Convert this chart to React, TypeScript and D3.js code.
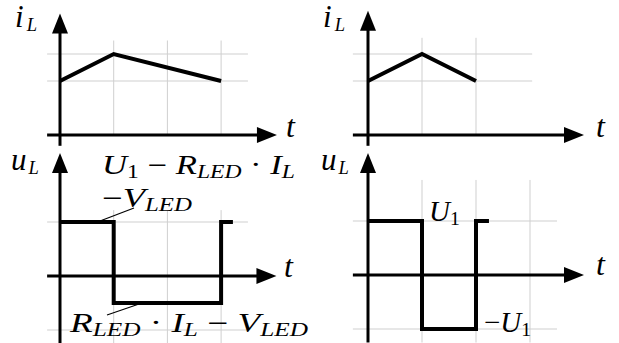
import React from "react";
import * as d3 from "d3";

// inductor current (top) and voltage (bottom), left: long off-time, right: short
const iLeftT = [0, 1, 3];
const iLeftV = [2, 3, 2];
const iRightT = [0, 1, 2];
const iRightV = [2, 3, 2];
const uLeftT = [0, 1, 3, 3.22];
const uLeftV = [1, -0.5, 1, 1];
const uRightT = [0, 1, 2, 2.24];
const uRightV = [1, -1, 1, 1];

const FONT = "Liberation Serif, DejaVu Serif, serif";

type Part = { s: string; sub?: boolean; up?: boolean; dx?: number };

const MathText = ({
  x, y, parts, size = 27, subRatio = 0.68, len,
}: { x: number; y: number; parts: Part[]; size?: number; subRatio?: number; len?: number }) => (
  <text
    x={x}
    y={y}
    style={{ fontFamily: FONT }}
    fontSize={size}
    fill="#000"
    textLength={len}
    lengthAdjust={len ? "spacingAndGlyphs" : undefined}
  >
    {parts.map((p, i) => {
      const prevSub = i > 0 && parts[i - 1].sub;
      let dy = 0;
      if (p.sub && !prevSub) dy = size * 0.13;
      if (!p.sub && prevSub) dy = -size * 0.13;
      return (
        <tspan
          key={i}
          dy={dy}
          dx={p.dx}
          fontSize={p.sub ? size * subRatio : size}
          fontStyle={p.up ? "normal" : "italic"}
        >
          {p.s}
        </tspan>
      );
    })}
  </text>
);

type PanelProps = {
  ox: number;
  oy: number;
  xUnit: number;
  yUnit: number;
  tRange: [number, number];
  vRange: [number, number];
  vTicks: number[];
  hTicks: number[];
  axisX: [number, number];
  axisY: [number, number];
  ts: number[];
  vs: number[];
  step?: boolean;
};

const Arrow = ({ x, y, dir }: { x: number; y: number; dir: "right" | "up" }) => {
  const L = 20;
  const W = 8;
  const d =
    dir === "right"
      ? `M${x},${y} L${x - L},${y - W} L${x - L},${y + W} Z`
      : `M${x},${y} L${x - W},${y + L} L${x + W},${y + L} Z`;
  return <path d={d} fill="#000" />;
};

const Panel = (p: PanelProps) => {
  const x = d3.scaleLinear().domain([0, 1]).range([p.ox, p.ox + p.xUnit]);
  const y = d3.scaleLinear().domain([0, 1]).range([p.oy, p.oy - p.yUnit]);
  const data = p.ts.map((t, i) => [t, p.vs[i]] as [number, number]);
  const line = d3
    .line<[number, number]>()
    .x((d) => x(d[0]))
    .y((d) => y(d[1]))
    .curve(p.step ? d3.curveStepAfter : d3.curveLinear);
  return (
    <g>
      {p.vTicks.map((t) => (
        <line key={"v" + t} x1={x(t)} x2={x(t)} y1={y(p.vRange[0])} y2={y(p.vRange[1])} stroke="#cfcfcf" strokeWidth={1} />
      ))}
      {p.hTicks.map((v) => (
        <line key={"h" + v} x1={x(p.tRange[0])} x2={x(p.tRange[1])} y1={y(v)} y2={y(v)} stroke="#cfcfcf" strokeWidth={1} />
      ))}
      <line x1={x(p.axisX[0])} x2={x(p.axisX[1]) - 10} y1={y(0)} y2={y(0)} stroke="#000" strokeWidth={3} />
      <line x1={x(0)} x2={x(0)} y1={y(p.axisY[0])} y2={y(p.axisY[1]) + 10} stroke="#000" strokeWidth={3} />
      <Arrow x={x(p.axisX[1])} y={y(0)} dir="right" />
      <Arrow x={x(0)} y={y(p.axisY[1])} dir="up" />
      <path d={line(data) ?? ""} fill="none" stroke="#000" strokeWidth={4} strokeLinejoin="miter" />
    </g>
  );
};

const iL: Part[] = [{ s: "i" }, { s: "L", sub: true, dx: 3 }];
const uL: Part[] = [{ s: "u" }, { s: "L", sub: true, dx: 2 }];
const tLabel: Part[] = [{ s: "t" }];

export default function App() {
  return (
    <svg width={619} height={343} style={{ position: "absolute", left: 0, top: 0, background: "#fff" }}>
      <Panel ox={60} oy={135} xUnit={53.7} yUnit={27} tRange={[-0.24, 3.5]} vRange={[0, 3.5]}
        vTicks={[1, 2, 3]} hTicks={[2, 3]} axisX={[-0.24, 4.04]} axisY={[-0.4, 4.5]}
        ts={iLeftT} vs={iLeftV} />
      <Panel ox={368} oy={135} xUnit={54} yUnit={27} tRange={[-0.28, 3.04]} vRange={[0, 3.6]}
        vTicks={[1, 2]} hTicks={[2, 3]} axisX={[-0.28, 4.0]} axisY={[-0.4, 4.6]}
        ts={iRightT} vs={iRightV} />
      <Panel ox={60} oy={276} xUnit={53.7} yUnit={54} tRange={[-0.24, 3.5]} vRange={[-1.25, 1.22]}
        vTicks={[1, 2, 3]} hTicks={[-1, 1]} axisX={[-0.24, 4.03]} axisY={[-1.25, 2.28]}
        ts={uLeftT} vs={uLeftV} step />
      <Panel ox={368} oy={275} xUnit={54} yUnit={54} tRange={[-0.28, 3.5]} vRange={[-1.25, 1.76]}
        vTicks={[1, 2, 3]} hTicks={[-1, 1]} axisX={[-0.28, 4.0]} axisY={[-1.25, 2.26]}
        ts={uRightT} vs={uRightV} step />

      {/* axis labels */}
      <MathText x={15} y={27} size={31} subRatio={0.6} parts={iL} />
      <MathText x={323} y={27} size={31} subRatio={0.6} parts={iL} />
      <MathText x={286} y={137} size={32} parts={tLabel} />
      <MathText x={596} y={137} size={32} parts={tLabel} />
      <MathText x={11} y={170} size={31} subRatio={0.6} parts={uL} />
      <MathText x={321} y={170} size={31} subRatio={0.6} parts={uL} />
      <MathText x={284} y={277} size={32} parts={tLabel} />
      <MathText x={596} y={275} size={32} parts={tLabel} />

      {/* level annotations */}
      <MathText x={102} y={174} len={193} parts={[{ s: "U" }, { s: "1", sub: true, up: true }, { s: " − ", up: true }, { s: "R" }, { s: "LED", sub: true }, { s: " · ", up: true }, { s: "I" }, { s: "L", sub: true }]} />
      <MathText x={102} y={207} len={90} parts={[{ s: "−", up: true }, { s: "V" }, { s: "LED", sub: true }]} />
      <line x1={100} y1={221} x2={134} y2={208} stroke="#000" strokeWidth={1.2} />
      <MathText x={70} y={332} len={238} parts={[{ s: "R" }, { s: "LED", sub: true }, { s: " · ", up: true }, { s: "I" }, { s: "L", sub: true }, { s: " − ", up: true }, { s: "V" }, { s: "LED", sub: true }]} />
      <line x1={107} y1={315} x2={142} y2={303} stroke="#000" strokeWidth={1.2} />
      <MathText x={429} y={221} size={29} parts={[{ s: "U" }, { s: "1", sub: true, up: true }]} />
      <MathText x={484} y={332} size={29} parts={[{ s: "−", up: true }, { s: "U" }, { s: "1", sub: true, up: true }]} />
    </svg>
  );
}
